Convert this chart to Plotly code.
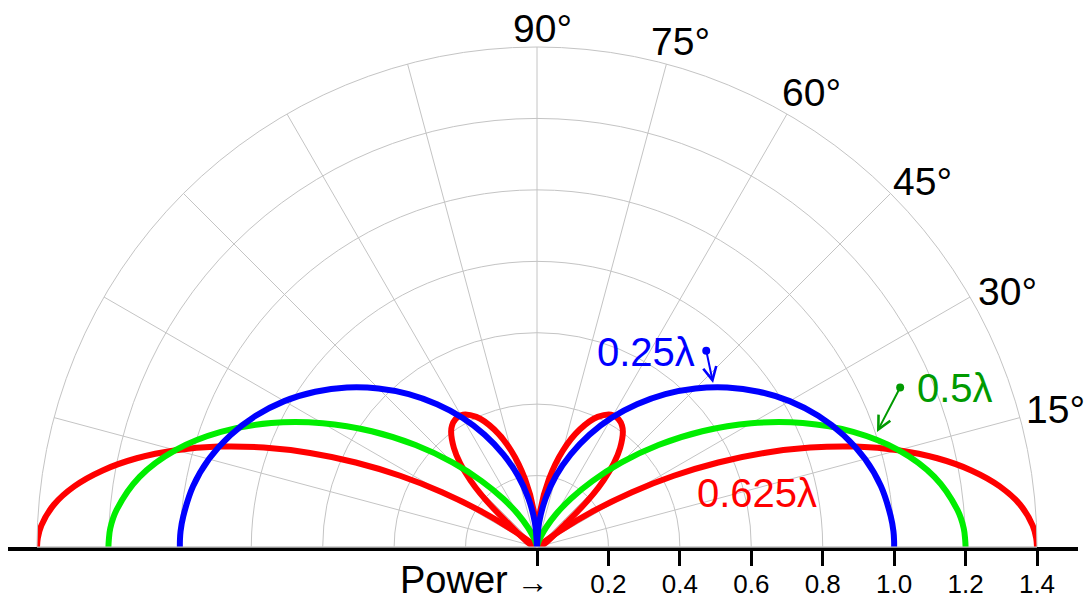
import plotly.graph_objects as go

# Elevation angles (degrees above the ground plane) for the right half of the pattern
elev = [0, 1, 2.5, 5, 10, 15, 20, 25, 30, 35, 40, 45, 50, 55, 60, 65, 70, 75, 80, 85, 90]

# Relative field strength of a 0.25λ monopole
r_025 = [1.000, 1.000, 0.999, 0.994, 0.978, 0.951, 0.914, 0.869, 0.817, 0.758, 0.695,
         0.628, 0.559, 0.488, 0.418, 0.347, 0.276, 0.207, 0.138, 0.069, 0.0]

# Relative field strength of a 0.5λ monopole
r_050 = [1.200, 1.199, 1.196, 1.182, 1.130, 1.048, 0.942, 0.821, 0.693, 0.565, 0.444,
         0.335, 0.241, 0.165, 0.106, 0.061, 0.031, 0.013, 0.004, 0.001, 0.0]

# 0.625λ monopole: main lobe and high-angle side lobe (null near 36.9°)
elev_main = [0, 1, 2.5, 5, 7.5, 10, 12.5, 15, 17.5, 20, 22.5, 25, 27.5, 30, 32.5, 35, 36.9]
r_main = [1.400, 1.398, 1.389, 1.358, 1.306, 1.235, 1.148, 1.047, 0.935, 0.814, 0.688,
          0.560, 0.432, 0.307, 0.188, 0.077, 0.0]
elev_side = [36.9, 40, 45, 50, 55, 60, 65, 70, 75, 80, 85, 90]
r_side = [0.0, 0.116, 0.263, 0.362, 0.415, 0.426, 0.402, 0.350, 0.279, 0.193, 0.099, 0.0]

angle_ticks = [0, 15, 30, 45, 60, 75, 90, 105, 120, 135, 150, 165, 180]
angle_labels = ["15°", "30°", "45°", "60°", "75°", "90°"]
power_ticks = [0, 0.2, 0.4, 0.6, 0.8, 1.0, 1.2, 1.4]
power_text = ["", "0.2", "0.4", "0.6", "0.8", "1.0", "1.2", "1.4"]
ring_vals = [0.2, 0.4, 0.6, 0.8, 1.0, 1.2]

BLUE = "#0000ff"
GREEN = "#00ee00"
RED = "#ff0000"
GREEN_TXT = "#009a00"
GRID = "#c4c4c4"
W, H = 1089, 600


def both_sides(segments):
    """Join pattern segments and their mirror images, separated by gaps."""
    rr, tt = [], []
    for ang, rad in segments:
        for side in (ang, [180 - a for a in ang]):
            if rr:
                rr.append(None)
                tt.append(None)
            rr.extend(rad)
            tt.extend(side)
    return rr, tt


fig = go.Figure()

for segs, color in [
    ([(elev_main, r_main), (elev_side, r_side)], RED),
    ([(elev, r_050)], GREEN),
    ([(elev, r_025)], BLUE),
]:
    rr, tt = both_sides(segs)
    fig.add_trace(go.Scatterpolar(
        r=rr, theta=tt, mode="lines",
        line=dict(color=color, width=6, shape="spline"),
        connectgaps=False, showlegend=False, hoverinfo="skip",
    ))

# Horizontal power scale along the ground line
fig.add_trace(go.Scatter(x=[0], y=[0], mode="markers", marker=dict(opacity=0),
                         showlegend=False, hoverinfo="skip"))

PX = 500 / 1.4  # pixels per unit of radius
fig.update_layout(
    width=W, height=H,
    margin=dict(l=0, r=0, t=0, b=0, autoexpand=False),
    paper_bgcolor="white", plot_bgcolor="rgba(0,0,0,0)",
    showlegend=False,
    polar=dict(
        domain=dict(x=[37 / W, 1037 / W], y=[53 / H, 553 / H]),
        sector=[0, 180],
        bgcolor="rgba(0,0,0,0)",
        radialaxis=dict(range=[0, 1.4], tickmode="array", tickvals=ring_vals,
                        showticklabels=False, ticks="", showline=False,
                        gridcolor=GRID, gridwidth=1),
        angularaxis=dict(rotation=0, direction="counterclockwise",
                         tickmode="array", tickvals=angle_ticks, showticklabels=False,
                         ticks="", showline=True, linecolor=GRID, linewidth=1,
                         gridcolor=GRID, gridwidth=1),
    ),
    xaxis=dict(domain=[8 / W, 1078 / W],
               range=[(8 - 537) / PX, (1078 - 537) / PX],
               tickmode="array", tickvals=power_ticks, ticktext=power_text,
               ticks="outside", ticklen=15, tickwidth=3, tickcolor="black",
               ticklabelstandoff=-4,
               showline=True, linecolor="black", linewidth=4,
               showgrid=False, zeroline=False, automargin=False,
               tickfont=dict(family="Liberation Sans, Arial", size=26, color="black")),
    yaxis=dict(domain=[53 / H, 553 / H], range=[0, 1.4], visible=False, automargin=False),
)

label_font = "Liberation Sans, Arial"
annotations = [
    dict(x=0.448, y=0.546, text="0.25λ", xanchor="right", yanchor="middle",
         xref="x", yref="y", showarrow=False,
         font=dict(family=label_font, size=40, color=BLUE)),
    dict(x=1.058, y=0.445, text="0.5λ", xanchor="left", yanchor="middle",
         xref="x", yref="y", showarrow=False,
         font=dict(family=label_font, size=40, color=GREEN_TXT)),
    dict(x=0.617, y=0.151, text="0.625λ", xanchor="center", yanchor="middle",
         xref="x", yref="y", showarrow=False,
         font=dict(family=label_font, size=40, color=RED)),
    dict(x=399 / W, y=(H - 580) / H,
         text="Power<span style='font-size:32px'> →</span>",
         xanchor="left", yanchor="middle", xref="paper", yref="paper", showarrow=False,
         height=36, borderpad=0,
         font=dict(family=label_font, size=38, color="black")),
]

# Elevation-angle labels around the outer ring
angle_pos = [(1055, 409), (1007, 291.5), (922.5, 181.5), (812, 92.5), (680, 41), (542, 28.5)]
for txt, (px, py) in zip(angle_labels, angle_pos):
    annotations.append(dict(
        x=px / W, y=(H - py) / H, xref="paper", yref="paper", text=txt,
        xanchor="center", yanchor="middle", showarrow=False,
        font=dict(family=label_font, size=39, color="black"),
    ))

# Pointer arrows from a dot to the curve
pointers = [
    (0.493, 0.459, 0.473, 0.554, BLUE),
    (0.952, 0.322, 1.019, 0.451, GREEN_TXT),
]
for x, y, ax, ay, c in pointers:
    annotations.append(dict(
        x=x, y=y, ax=ax, ay=ay, xref="x", yref="y", axref="x", ayref="y",
        text="", showarrow=True, arrowside="end+start",
        arrowhead=5, arrowsize=1.3, startarrowhead=6, startarrowsize=1.0,
        arrowwidth=2, arrowcolor=c,
    ))

fig.update_layout(annotations=annotations)

fig.write_html("out.html")
